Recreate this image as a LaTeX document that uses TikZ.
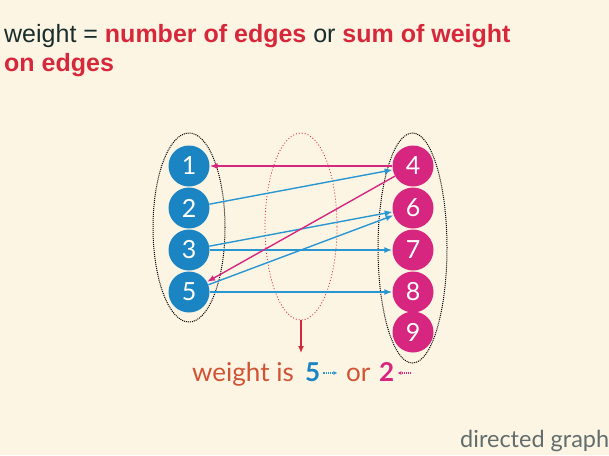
\documentclass[tikz,border=0pt]{standalone}
\usepackage{fontspec}
\setmainfont{Liberation Sans}
\newfontfamily\gill{Lato}
\usetikzlibrary{arrows.meta,shapes.geometric,positioning}
\definecolor{cream}{RGB}{253,245,228}
\definecolor{ink}{RGB}{25,45,45}
\definecolor{hired}{RGB}{214,40,58}
\definecolor{vblue}{RGB}{27,133,196}
\definecolor{vpink}{RGB}{214,38,128}
\definecolor{eblue}{RGB}{40,150,210}
\definecolor{rust}{RGB}{208,84,52}
\definecolor{capgray}{RGB}{98,110,110}
\tikzset{
  vtx/.style={circle,minimum size=41pt,inner sep=0pt,text=white,
    font=\gill\fontsize{25}{25}\selectfont},
  bvtx/.style={vtx,fill=vblue},
  pvtx/.style={vtx,fill=vpink},
  grp/.style={ellipse,draw,densely dotted,line width=1pt,inner sep=0pt},
  bedge/.style={eblue,line width=1.4pt,-{Latex[length=8pt,width=6pt]}},
  pedge/.style={vpink,line width=1.4pt,-{Latex[length=8pt,width=6pt]}},
  minidot/.style={densely dotted,line width=1.1pt,-{Latex[length=4pt,width=4pt]}},
  txt/.style={anchor=base west,inner sep=0pt}
}
\begin{document}
\begin{tikzpicture}[x=1pt,y=-1pt]
    \fill[cream] (0,0) rectangle (609,455);
    \useasboundingbox (0,0) rectangle (609,455);
    % heading
    \node[txt,text=ink,font=\fontsize{25}{25}\selectfont] (head1) at (4,42)
        {weight = \textcolor{hired}{\bfseries number of edges} or \textcolor{hired}{\bfseries sum of weight}};
    \node[txt,text=hired,font=\fontsize{25}{25}\selectfont\bfseries] (head2) at (4,71) {on edges};
    % groups
    \node[grp,minimum width=72pt,minimum height=189pt] (lgrp) at (189,227.5) {};
    \node[grp,minimum width=69pt,minimum height=230pt] (rgrp) at (412.5,248) {};
    \node[grp,draw=hired,dotted,line width=0.8pt,minimum width=72pt,minimum height=187pt] (mgrp) at (301,226.5) {};
    % vertices
    \node[bvtx] (v1) at (189,166) {1};
    \node[bvtx] (v2) at (189,208) {2};
    \node[bvtx] (v3) at (189,250) {3};
    \node[bvtx] (v5) at (189,292) {5};
    \node[pvtx] (v4) at (413,166) {4};
    \node[pvtx] (v6) at (413,208) {6};
    \node[pvtx] (v7) at (413,250) {7};
    \node[pvtx] (v8) at (413,292) {8};
    \node[pvtx] (v9) at (413,332) {9};
    % edges
    \draw[pedge] (v4) -- (v1);
    \draw[bedge] (v2) -- (v4);
    \draw[bedge] (v3) -- (v6);
    \draw[bedge] (v3) -- (v7);
    \draw[pedge] (v4) -- (v5);
    \draw[bedge] (v5) -- (v6);
    \draw[bedge] (v5) -- (v8);
    % result
    \coordinate (tip) at (301,353);
    \draw[hired,line width=1.3pt,-{Latex[length=7pt,width=6pt]}] (mgrp.south) -- (tip);
    \node[txt,text=rust,font=\gill\fontsize{26}{26}\selectfont] (wis) at (192,381) {weight is};
    \node[txt,text=vblue,font=\gill\fontsize{26}{26}\selectfont\bfseries] (w5) at (305,381) {5};
    \node[txt,text=rust,font=\gill\fontsize{26}{26}\selectfont] (wor) at (346,381) {or};
    \node[txt,text=vpink,font=\gill\fontsize{26}{26}\selectfont\bfseries] (w2) at (379,381) {2};
    \draw[minidot,eblue] ([xshift=3pt]w5.base east) ++(0,-8) coordinate (a5) -- ++(14,0);
    \draw[minidot,vpink] ([xshift=17pt]w2.base east) ++(0,-8) coordinate (a2) -- ++(-14,0);
    % caption
    \node[txt,text=capgray,font=\gill\fontsize{23.5}{23.5}\selectfont] (cap) at (460,447) {directed graph};
\end{tikzpicture}
\end{document}
